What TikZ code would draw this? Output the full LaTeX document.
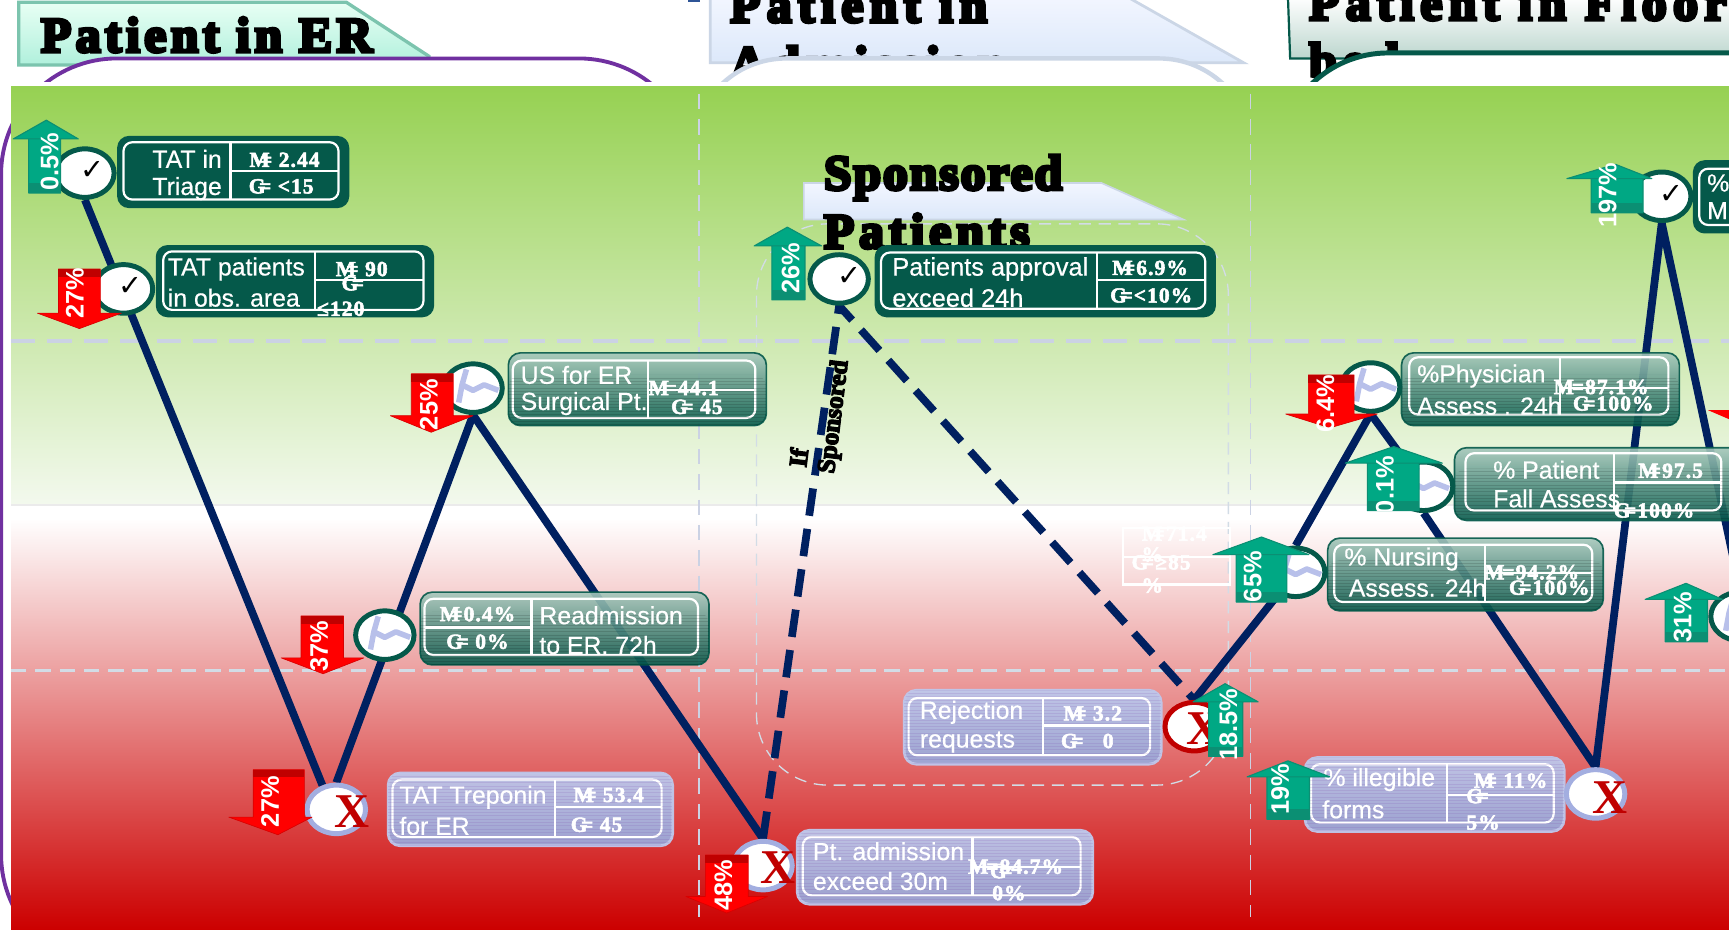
\documentclass[tikz,border=0pt]{standalone}
\usepackage{fontspec}
\usetikzlibrary{shapes.geometric}
\setmainfont{Liberation Sans}[UprightFeatures={FakeBold=0.5}]
\newfontfamily\ttlf{Liberation Serif}[BoldFeatures={FakeBold=7}]
\newfontfamily\sttlf{Liberation Serif}[BoldFeatures={FakeBold=5}]
\newfontfamily\kpif{Liberation Serif}[BoldFeatures={FakeBold=2.5,LetterSpace=5}]
\newfontfamily\xmf{Liberation Serif}
\newfontfamily\chkf{DejaVu Sans}
\definecolor{navy}{HTML}{002060}
\definecolor{dkgreen}{HTML}{05594A}
\definecolor{upgreen}{HTML}{00A884}
\definecolor{upband}{HTML}{0B8F73}
\definecolor{dnred}{HTML}{FF0000}
\definecolor{dnband}{HTML}{C00000}
\definecolor{lav}{HTML}{A3AEE0}
\definecolor{wig}{HTML}{B8C0EA}
\definecolor{bggreen}{HTML}{96D152}
\definecolor{bgpale}{HTML}{F3F9EE}
\definecolor{bgred}{HTML}{CC0000}
\definecolor{guide}{HTML}{CBD2E4}
\definecolor{guidep}{HTML}{D2DCE6}
\definecolor{mintt}{HTML}{E8FFF4}
\definecolor{mintb}{HTML}{B0F0DC}
\definecolor{mintl}{HTML}{7CC4AE}
\definecolor{icet}{HTML}{F2F6FF}
\definecolor{iceb}{HTML}{DCE8FA}
\definecolor{icel}{HTML}{CBD6E6}
\definecolor{flrb}{HTML}{BCD6CE}
\definecolor{purp}{HTML}{7030A0}
\definecolor{teal1}{HTML}{A6C8BC}
\definecolor{teal2}{HTML}{5C9A88}
\definecolor{sliver}{HTML}{2F5597}
\pgfdeclarelayer{bg}\pgfdeclarelayer{lnk}\pgfsetlayers{bg,lnk,main}
\tikzset{
 ttl/.style={anchor=base west,inner sep=0pt,font=\ttlf\bfseries\fontsize{45}{45}\selectfont},
 lb/.style={anchor=west,inner sep=0pt,text=white,font=\fontsize{22.5}{26}\selectfont},
 kp/.style={inner sep=0pt,text=white,font=\kpif\bfseries\fontsize{19.5}{20}\selectfont},
 pc/.style={inner sep=0pt,rotate=90,text=white,font=\bfseries\fontsize{23}{23}\selectfont},
 darkbox/.style={fill=dkgreen,draw=dkgreen,line width=1.5pt,rounded corners=10pt},
 tealbox/.style={top color=teal1,middle color=teal2,bottom color=dkgreen,draw=dkgreen,line width=1.5pt,rounded corners=11pt,opacity=.9},
 lavbox/.style={top color=lav!70!white,bottom color=lav!95!black,draw=lav!70!white,line width=2.5pt,rounded corners=11pt,opacity=.97},
 frame/.style={draw=white,line width=2pt,rounded corners=8pt},
 tbl/.style={draw=white,line width=2pt},
 ok/.style={ellipse,draw=dkgreen,line width=4.5pt,fill=white,minimum width=53pt,minimum height=44pt,inner sep=0pt},
 bad/.style={ok,draw=lav},
 badred/.style={ok,draw=dnband},
 lnk/.style={draw=navy,line width=7pt},
 lnkd/.style={lnk,dash pattern=on 25pt off 12pt},
 chk/.style={inner sep=0pt,text=black,font=\chkf\fontsize{26}{26}\selectfont},
 xm/.style={inner sep=0pt,text=dnband,font=\xmf\bfseries\fontsize{44}{44}\selectfont},
 wg/.style={draw=wig,line width=5pt,line join=round},
 uparr/.style={fill=upgreen,draw=upband,line width=1pt,line join=round},
 dnarr/.style={fill=dnred,draw=dnred!85!black,line width=.6pt,line join=round},
}
\newcommand\kbox[9]{\path[#1] (#2,#3) rectangle (#4,#5);\path[frame] (#6,#7) rectangle (#8,#9);}
\newcommand\stripes[6]{\begin{scope}\clip[rounded corners=11pt] (#1,#2) rectangle (#3,#4);
 \pgfmathsetmacro\ysn{#2+3}\foreach \yy in {#2,\ysn,...,#4}{\draw[#5,opacity=#6,line width=.9pt] (#1,\yy) -- (#3,\yy);}\end{scope}}
\newcommand\up[8]{\path[uparr] (#1,#2) -- (#4,#3) -- (#6,#3) -- (#6,#8) -- (#7,#8) -- (#7,#3) -- (#5,#3) -- cycle;\fill[upband] (#6,#8-9) rectangle (#7,#8);}
\newcommand\dn[8]{\path[dnarr] (#6,#3) -- (#7,#3) -- (#7,#8) -- (#5,#8) -- (#1,#2) -- (#4,#8) -- (#6,#8) -- cycle;\fill[dnband] (#6,#3) rectangle (#7,#3+7);}
\newcommand\wiggle[1]{\begin{scope}[shift={(#1.center)}]\draw[wg] (-6,-17) -- (-10,-3) -- (-13,13) (-10,-3) -- (0,2) -- (10,-3) -- (23,2);\end{scope}}
\newcommand\kM{M\kern-.45em=}
\newcommand\kG{G\kern-.3em=}
\begin{document}
\begin{tikzpicture}[x=1pt,y=-1pt]
\clip (0,0) rectangle (1568,842.5);
\begin{pgfonlayer}{bg}
\fill[white] (0,0) rectangle (1568,842.5);
% banners
\path[top color=mintt,bottom color=mintb,draw=mintl,line width=3pt] (17,2) -- (314,2) -- (389,51) -- (389,59) -- (17,59) -- cycle;
\path[top color=icet,bottom color=iceb,draw=icel,line width=2.5pt] (644,-3) -- (1022,-3) -- (1128,57) -- (644,57) -- cycle;
\path[top color=white,bottom color=flrb,draw=dkgreen,line width=2pt] (1168,-3) -- (1600,-3) -- (1600,53) -- (1170,53) -- cycle;
\fill[sliver] (624,-2) rectangle (635,2);
\node[ttl] (tera) at (37,47) {\addfontfeature{LetterSpace=9}Patient in ER};
\node[ttl] (tadma) at (662,20) {\addfontfeature{LetterSpace=13}Patient in};
\node[ttl] (tadmb) at (662,73) {\addfontfeature{LetterSpace=13}Admission};
\node[ttl] (tflra) at (1187,18) {\addfontfeature{LetterSpace=13}Patient in Floor};
\node[ttl] (tflrb) at (1187,70) {\addfontfeature{LetterSpace=13}beds};
% framing rounded rectangles
\draw[fill=white,draw=purp,line width=3.5pt,rounded corners=105pt] (1,53) rectangle (630,880);
\draw[fill=white,draw=icel,line width=4pt,rounded corners=85pt] (628,53) rectangle (1136,880);
\draw[fill=white,draw=dkgreen,line width=4.5pt,rounded corners=100pt] (1159,48) rectangle (1800,880);
% background
\fill[white] (0,74) rectangle (1568,78);
\fill[white] (10,78) rectangle (1568,842.5);
\shade[top color=bggreen,bottom color=bgpale] (10,78) rectangle (1568,458);
\shade[top color=white,bottom color=bgred] (10,470) rectangle (1568,842.5);
\draw[black!8,line width=1.2pt] (10,458) -- (1568,458);
% dashed guides
\draw[guide,line width=3.5pt,dash pattern=on 22pt off 11pt] (10,309) -- (1568,309);
\draw[guidep,line width=2pt,dash pattern=on 14pt off 8pt] (10,608) -- (1568,608);
\draw[guide,line width=1.6pt,dash pattern=on 14pt off 9pt] (634,85) -- (634,832);
\draw[guide,line width=1.6pt,dash pattern=on 14pt off 9pt] (1134,85) -- (1134,832);
\draw[guidep,line width=1.2pt,dash pattern=on 11pt off 7pt,rounded corners=65pt] (686,203) rectangle (1114,712);
% sponsored banner
\path[top color=icet,bottom color=iceb,draw=icel,line width=1.5pt] (729,166) -- (999,166) -- (1073,199) -- (729,199) -- cycle;
\end{pgfonlayer}
\node[ttl] (tspa) at (747,172) {\addfontfeature{LetterSpace=4}Sponsored};
\node[ttl] (tspb) at (747,225) {\addfontfeature{LetterSpace=10}Patients};

% boxes
\kbox{darkbox}{107}{124}{316}{188}{112}{129}{307}{181}
\draw[tbl] (209,129) -- (209,181) (209,155) -- (307,155);
\node[lb] (b1a) at (138,144) {TAT in};
\node[lb] (b1b) at (138,171) {Triage};
\node[kp] (b1m) at (258,145) {\kM{} 2.44};
\node[kp] (b1g) at (255,169) {\kG{} <15};

\kbox{darkbox}{142}{223}{393}{287}{148}{228}{384}{281}
\draw[tbl] (286,228) -- (286,281) (286,254) -- (384,254);
\node[lb] (b2a) at (152,244) {TAT patients};
\node[lb] (b2b) at (152,270) {in obs. area};
\node[kp] (b2m) at (328,244) {\kM{} 90};
\node[kp] (b2g) at (320,257) {\kG{}};
\node[kp] (b2h) at (309,280) {≤120};

\kbox{tealbox}{461}{320}{695}{386}{465}{327}{685}{379}
\stripes{461}{340}{695}{386}{black}{.13}
\draw[tbl] (588,327) -- (588,379) (588,354) -- (685,354);
\node[lb] (b3a) at (472,340) {US for ER};
\node[lb] (b3b) at (472,366) {Surgical Pt.};
\node[kp] (b3m) at (620,352) {M\kern-.2em=44.1};
\node[kp] (b3g) at (632,369) {\kG{} 45};

\kbox{tealbox}{381}{537}{643}{603}{385}{543}{633}{594}
\stripes{381}{555}{643}{603}{black}{.13}
\draw[tbl] (482,543) -- (482,594) (385,569) -- (482,569);
\node[lb] (b4a) at (489,558) {Readmission};
\node[lb] (b4b) at (489,585) {to ER. 72h};
\node[kp] (b4m) at (433,557) {\kM{}0.4\%};
\node[kp] (b4g) at (433,582) {\kG{} 0\%};

\kbox{lavbox}{352}{701}{610}{767}{356}{707}{600}{759}
\stripes{352}{701}{610}{767}{purp}{.12}
\draw[tbl] (503,707) -- (503,759) (503,732) -- (600,732);
\node[lb] (b5a) at (362,723) {TAT Treponin};
\node[lb] (b5b) at (362,749) {for ER};
\node[kp] (b5m) at (552,721) {\kM{} 53.4};
\node[kp] (b5g) at (541,748) {\kG{} 45};

\kbox{lavbox}{723}{753}{991}{820}{728}{759}{980}{812}
\stripes{723}{753}{991}{820}{purp}{.12}
\draw[tbl] (882,759) -- (882,812) (882,786) -- (980,786);
\node[lb] (b6a) at (737,772) {Pt. admission};
\node[lb] (b6b) at (737,799) {exceed 30m};
\node[kp] (b6m) at (921,786) {M\kern-.1em=84.7\%};
\node[kp] (b6g) at (908,790) {\kG{}};
\node[kp] (b6h) at (915,810) {0\%};

\kbox{lavbox}{820}{626}{1053}{693}{824}{633}{1043}{685}
\stripes{820}{626}{1053}{693}{purp}{.12}
\draw[tbl] (946,633) -- (946,685) (946,658) -- (1043,658);
\node[lb] (b7a) at (834,646) {Rejection};
\node[lb] (b7b) at (834,673) {requests};
\node[kp] (b7m) at (991,647) {\kM{} 3.2};
\node[kp] (b7g) at (986,672) {\kG{} \ \ 0};

\draw[tbl] (1018.5,479) rectangle (1115.5,530) (1018.5,505) -- (1115.5,505);
\node[kp] (b8m) at (1065,484) {\kM{}71.4};
\node[kp] (b8p) at (1045,503) {\%};
\node[kp] (b8g) at (1053,510) {\kG{}≥85};
\node[kp] (b8q) at (1045,531) {\%};

\kbox{tealbox}{1271}{320}{1523}{386}{1278}{324}{1513}{376}
\stripes{1271}{340}{1523}{386}{black}{.13}
\draw[tbl] (1415,324) -- (1415,376) (1415,352) -- (1513,352);
\node[lb] (b9a) at (1285,341) {\%Physician};
\node[lb] (b9b) at (1285,368) {Assess . 24h};
\node[kp] (b9m) at (1452,351) {M\kern-.1em=87.1\%};
\node[kp] (b9g) at (1463,366) {\kG{}100\%};

\kbox{tealbox}{1319}{406}{1590}{472}{1329}{411}{1561}{463}
\stripes{1319}{425}{1590}{472}{black}{.13}
\draw[tbl] (1464,411) -- (1464,463) (1464,437.5) -- (1561,437.5);
\node[lb] (b10a) at (1354,426) {\% Patient};
\node[lb] (b10b) at (1354,452) {Fall Assess};
\node[kp] (b10m) at (1515,427) {\kM{}97.5};
\node[kp] (b10g) at (1500,463) {\kG{}100\%};

\kbox{tealbox}{1204}{488}{1454}{554}{1210}{494}{1444}{546}
\stripes{1204}{508}{1454}{554}{black}{.13}
\draw[tbl] (1347,494) -- (1347,546) (1347,519.5) -- (1444,519.5);
\node[lb] (b11a) at (1219,507) {\% Nursing};
\node[lb] (b11b) at (1223,533) {Assess. 24h};
\node[kp] (b11m) at (1389,519) {M\kern-.1em=94.2\%};
\node[kp] (b11g) at (1405,533) {\kG{}100\%};

\kbox{lavbox}{1183.5}{687}{1418.5}{754}{1189}{693}{1409}{746}
\stripes{1183.5}{687}{1418.5}{754}{purp}{.12}
\draw[tbl] (1312,693) -- (1312,746) (1312,721) -- (1409,721);
\node[lb] (b12a) at (1200,707) {\% illegible};
\node[lb] (b12b) at (1199,734) {forms};
\node[kp] (b12m) at (1370,708) {\kM{} 11\%};
\node[kp] (b12g) at (1340,722) {\kG{}};
\node[kp] (b12h) at (1345,746) {5\%};

\kbox{darkbox}{794}{223}{1102}{287}{799}{229}{1093}{280}
\draw[tbl] (995,229) -- (995,280) (995,254) -- (1093,254);
\node[lb,font=\fontsize{23}{26}\selectfont] (b13a) at (809,244) {Patients approval};
\node[lb,font=\fontsize{23}{26}\selectfont] (b13b) at (809,270) {exceed 24h};
\node[kp] (b13m) at (1043,243) {\kM{}6.9\%};
\node[kp] (b13g) at (1044,268) {\kG{}<10\%};

\kbox{darkbox}{1536}{146}{1620}{211}{1541}{153}{1615}{204}
\node[lb] (b14a) at (1548,166) {\%};
\node[lb] (b14b) at (1548,191) {M};

% status circles
\node[ok] (c1) at (77,157) {};
\node[ok] (c2) at (112,262) {};
\node[ok] (c3) at (429,352) {};
\node[ok] (c4) at (349,576) {};
\node[bad] (c5) at (305,734) {};
\node[bad] (c6) at (692,785) {};
\node[ok] (c7) at (761,253) {};
\node[badred] (c8) at (1083,659) {};
\node[ok] (c9) at (1175,519) {};
\node[ok] (c10) at (1291,441) {};
\node[ok] (c11) at (1243,351) {};
\node[ok] (c12) at (1507,178) {};
\node[ok] (c13) at (1578,559) {};
\node[bad] (c14) at (1447,720) {};
\node[chk] (k1) at (83.5,155) {✓};
\node[chk] (k2) at (118,260) {✓};
\node[chk] (k7) at (770,251) {✓};
\node[chk] (k12) at (1516,176) {✓};
\node[xm] (x5) at (319,736) {X};
\node[xm] (x6) at (706,787) {X};
\node[xm] (x8) at (1092,661) {X};
\node[xm] (x14) at (1460,723) {X};
\wiggle{c3}\wiggle{c4}\wiggle{c9}\wiggle{c10}\wiggle{c11}\wiggle{c13}

% connectors
\begin{pgfonlayer}{lnk}
\draw[lnk] (c1.south) -- (c5.120);
\draw[lnk] (c5.north) -- (c3.south) -- (c6.north);
\draw[lnkd] (c6.north) -- (c7.south) -- (c8.north);
\draw[lnk] (c8.north) -- (c9.center);
\draw[lnk] (c9.north) -- (c11.south) -- (c10.center);
\draw[lnk] (c10.south) -- (c14.north) -- (c12.south) -- (c13.north);
\end{pgfonlayer}

\node[inner sep=0pt,rotate=83,font=\sttlf\bfseries\fontsize{23}{23}\selectfont] (s1) at (724,415) {If};
\node[inner sep=0pt,rotate=83,font=\sttlf\bfseries\fontsize{23}{23}\selectfont] (s2) at (757,378) {Sponsored};

% arrows: tipx tipy wingy wingR wingL shaftL shaftR bottom
\up{42}{109}{126}{71}{12}{26}{55}{175}
\up{714}{206}{223}{745}{684}{700}{730}{272}
\up{1465}{149}{162}{1498}{1421}{1443}{1490}{193}
\up{1144}{487}{503}{1187}{1100}{1121}{1167}{546}
\up{1264}{405}{420}{1308}{1220}{1240}{1287}{463}
\up{1111}{620}{636.5}{1141}{1082}{1096}{1127}{686}
\up{1168}{690}{704.5}{1206}{1131}{1149}{1187.5}{743}
\up{1529}{529}{543.6}{1562}{1492}{1510}{1548.5}{582}
% arrows: tipx tipy topy wingL wingR shaftL shaftR wingy
\dn{72}{298}{244}{34}{110}{53}{91}{284}
\dn{391}{392}{339}{354}{429}{373}{411}{377}
\dn{293}{611}{558.5}{255}{330}{273}{311.5}{596.6}
\dn{252}{757}{698}{207.5}{283}{229.6}{276}{741}
\dn{659}{828}{775.4}{622}{696}{639.7}{678.5}{813}
\dn{1206}{388}{340}{1166}{1249}{1186.5}{1228}{375.5}
\fill[dnred] (1549,372) -- (1570,372) -- (1570,381) -- cycle;

\node[pc] (p1) at (45,147) {0.5\%};
\node[pc] (p2) at (717,243) {26\%};
\node[pc] (p3) at (1458,177) {197\%};
\node[pc] (p4) at (1136,523) {65\%};
\begin{scope}\clip (1230,400) rectangle (1300,463);
\node[pc] (p5) at (1256,440) {0.1\%};
\end{scope}
\node[pc] (p6) at (1114,657) {18.5\%};
\node[pc] (p7) at (1161,716) {19\%};
\begin{scope}\clip (1500,525) rectangle (1560,582);
\node[pc] (p8) at (1526,560) {31\%};
\end{scope}
\node[pc] (p9) at (68,266) {27\%};
\node[pc] (p10) at (389,367) {25\%};
\node[pc] (p11) at (289.5,586) {37\%};
\node[pc] (p12) at (245,727) {27\%};
\node[pc] (p13) at (656,803) {48\%};
\node[pc] (p14) at (1202,366) {6.4\%};
\end{tikzpicture}
\end{document}
